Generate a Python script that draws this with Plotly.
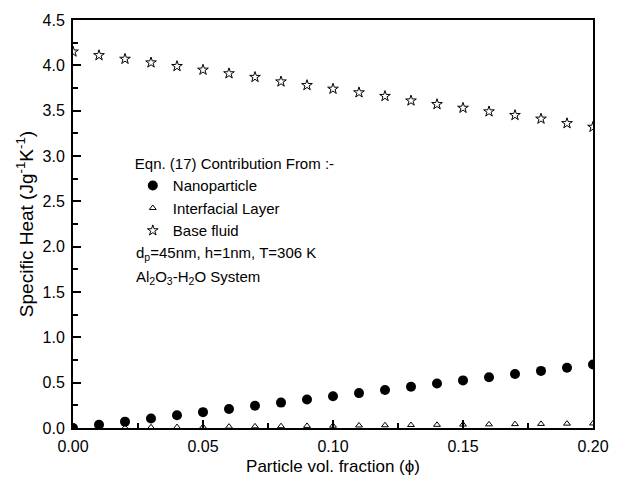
import plotly.graph_objects as go

phi = [0.00, 0.01, 0.02, 0.03, 0.04, 0.05, 0.06, 0.07, 0.08, 0.09, 0.10,
       0.11, 0.12, 0.13, 0.14, 0.15, 0.16, 0.17, 0.18, 0.19, 0.20]
nanoparticle = [0.0, 0.035, 0.07, 0.105, 0.14, 0.175, 0.21, 0.245, 0.28, 0.315, 0.35,
                0.385, 0.42, 0.455, 0.49, 0.525, 0.56, 0.595, 0.63, 0.665, 0.70]
interfacial = [0.0, 0.003, 0.005, 0.008, 0.010, 0.013, 0.015, 0.018, 0.020, 0.023, 0.025,
               0.028, 0.030, 0.033, 0.035, 0.038, 0.040, 0.043, 0.045, 0.048, 0.050]
base_fluid = [4.15, 4.11, 4.07, 4.03, 3.99, 3.95, 3.91, 3.87, 3.82, 3.78, 3.74,
              3.70, 3.66, 3.61, 3.57, 3.53, 3.49, 3.45, 3.41, 3.36, 3.32]

FONT = "Arial, Liberation Sans, sans-serif"

fig = go.Figure()
fig.add_trace(go.Scatter(x=phi, y=nanoparticle, mode="markers", name="Nanoparticle",
                         marker=dict(symbol="circle", size=10, color="black")))
fig.add_trace(go.Scatter(x=phi, y=interfacial, mode="markers", name="Interfacial Layer",
                         marker=dict(symbol="triangle-up-open", size=6, color="black",
                                     line=dict(width=1))))
fig.add_trace(go.Scatter(x=phi, y=base_fluid, mode="markers", name="Base fluid",
                         marker=dict(symbol="star-open", size=8, color="black",
                                     line=dict(width=1))))

fig.update_layout(
    width=621, height=486,
    margin=dict(l=73, r=18, t=19, b=58),
    paper_bgcolor="white", plot_bgcolor="white",
    font=dict(family=FONT, size=15, color="black"),
    showlegend=True,
    legend=dict(
        x=0.115, y=0.682, xanchor="left", yanchor="top",
        bgcolor="rgba(0,0,0,0)",
        title=dict(text="Eqn. (17) Contribution From :-", font=dict(size=15)),
        font=dict(size=15), tracegroupgap=0, itemsizing="trace",
    ),
    xaxis=dict(
        range=[0, 0.2], dtick=0.05, tickformat=".2f",
        showline=True, linecolor="black", linewidth=2, mirror=True,
        ticks="inside", ticklen=8, tickwidth=2, tickcolor="black",
        minor=dict(dtick=0.025, ticks="inside", ticklen=5, tickwidth=2, tickcolor="black"),
        showgrid=False, zeroline=False,
        tickfont=dict(size=16), ticklabelstandoff=3,
        title=dict(text="Particle vol. fraction (ϕ)", font=dict(size=17), standoff=6),
    ),
    yaxis=dict(
        range=[0, 4.5], dtick=0.5, tickformat=".1f",
        showline=True, linecolor="black", linewidth=2, mirror=True,
        ticks="inside", ticklen=8, tickwidth=2, tickcolor="black",
        minor=dict(dtick=0.25, ticks="inside", ticklen=5, tickwidth=2, tickcolor="black"),
        showgrid=False, zeroline=False,
        tickfont=dict(size=16), ticklabelstandoff=3,
        title=dict(text="Specific Heat (Jg<sup>-1</sup>K<sup>-1</sup>)", font=dict(size=19), standoff=4),
    ),
)

fig.add_annotation(text="d<sub>p</sub>=45nm, h=1nm, T=306 K", xref="paper", yref="paper",
                   x=(135 - 73) / 530, y=(428 - 253) / 409, xanchor="left", yanchor="middle",
                   showarrow=False, font=dict(size=15))
fig.add_annotation(text="Al<sub>2</sub>O<sub>3</sub>-H<sub>2</sub>O System", xref="paper", yref="paper",
                   x=(135 - 73) / 530, y=(428 - 277) / 409, xanchor="left", yanchor="middle",
                   showarrow=False, font=dict(size=15))

fig.write_html("out.html")
